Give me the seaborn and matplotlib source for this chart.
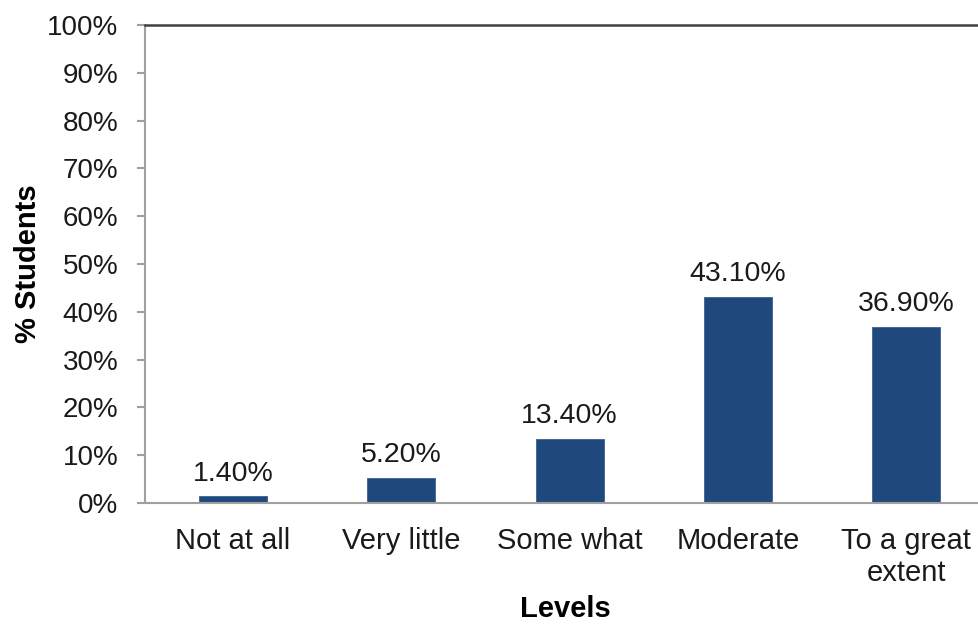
import matplotlib
matplotlib.use("Agg")
import matplotlib.pyplot as plt
import seaborn as sns
import pandas as pd
from matplotlib.ticker import FuncFormatter, MultipleLocator

categories = ["Not at all", "Very little", "Some what", "Moderate", "To a great\nextent"]
values = [1.40, 5.20, 13.40, 43.10, 36.90]
value_labels = ["1.40%", "5.20%", "13.40%", "43.10%", "36.90%"]

df = pd.DataFrame({"Levels": categories, "Students": values})

sns.set_theme(style="white")
plt.rcParams['font.family'] = ['Liberation Sans', 'DejaVu Sans']

fig = plt.figure(figsize=(9.79, 6.25), dpi=100)
ax = fig.add_axes([145/979, 122/625, 840/979, 478/625])

sns.barplot(data=df, x="Levels", y="Students", color="#1F497D", width=0.405,
            saturation=1, ax=ax, edgecolor="#3A5F8F", linewidth=0.6)

ax.set_ylim(0, 100)
ax.set_xlim(-0.523, 4.468)
ax.yaxis.set_major_locator(MultipleLocator(10))
ax.yaxis.set_major_formatter(FuncFormatter(lambda v, p: f"{int(v)}%"))

ax.bar_label(ax.containers[0], labels=value_labels, padding=7, fontsize=20.5, color="#1a1a1a")

for s in ["left", "bottom"]:
    ax.spines[s].set_color("#A0A0A0")
    ax.spines[s].set_linewidth(1.5)
ax.spines["top"].set_color("#404040")
ax.spines["top"].set_linewidth(1.8)
ax.spines["right"].set_visible(False)

ax.tick_params(axis="y", which="major", left=True, length=6, width=1.5, color="#A0A0A0",
               pad=13, labelsize=20, labelcolor="#1a1a1a")
ax.tick_params(axis="x", length=0, pad=17, labelsize=21, labelcolor="#1a1a1a")
for lbl in ax.get_xticklabels():
    lbl.set_linespacing(1.2)

ax.set_ylabel("% Students", fontsize=21, fontweight="bold", color="black", labelpad=4)
ax.set_xlabel("Levels", fontsize=21, fontweight="bold", color="black", labelpad=6)

fig.savefig("out.png", dpi=100)
